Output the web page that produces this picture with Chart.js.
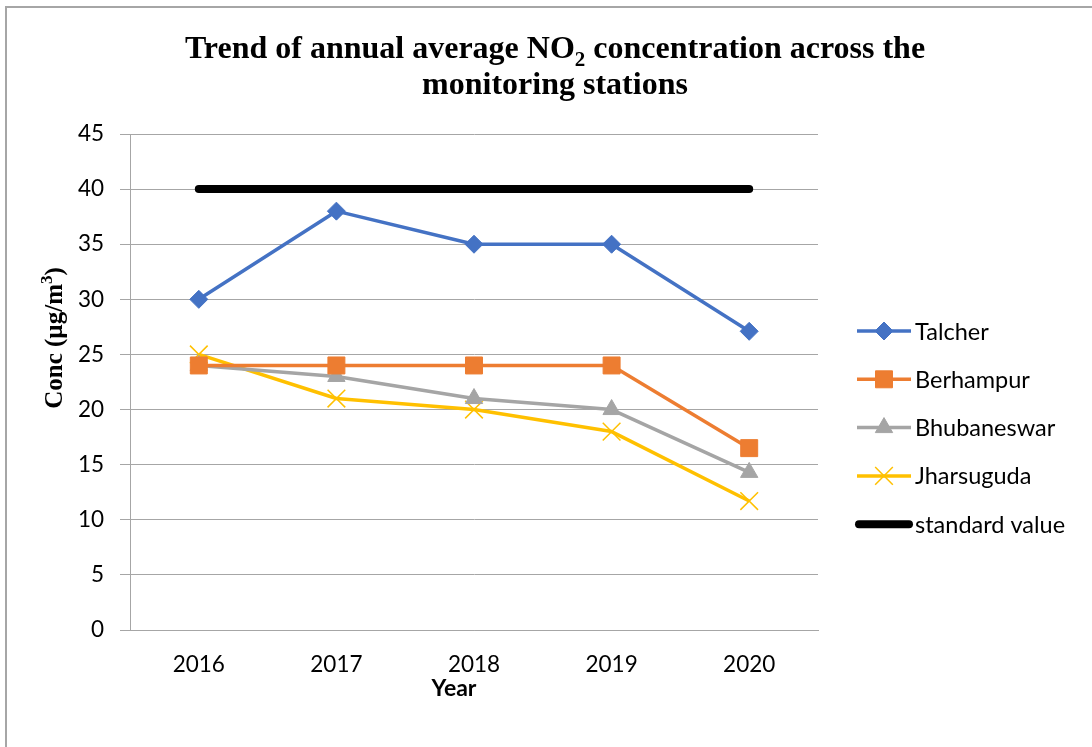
<!DOCTYPE html>
<html>
<head>
<meta charset="utf-8">
<script src="https://cdn.jsdelivr.net/npm/chart.js@4/dist/chart.umd.min.js"></script>
<style>
  html, body { margin: 0; padding: 0; background: #fff; }
  #wrap { position: relative; width: 1092px; height: 747px; }
</style>
</head>
<body>
<div id="wrap"><canvas id="no2Chart" width="1092" height="747"></canvas></div>
<script>
// ===== data =====
const years = ['2016', '2017', '2018', '2019', '2020'];
const talcher = [30, 38, 35, 35, 27.1];
const berhampur = [24, 24, 24, 24, 16.5];
const bhubaneswar = [24, 23, 21, 20, 14.3];
const jharsuguda = [25, 21, 20, 18, 11.7];
const standardValue = [40, 40, 40, 40, 40];
const yTicks = [0, 5, 10, 15, 20, 25, 30, 35, 40, 45];

const SANS = 'Lato, "Open Sans", sans-serif';
const SERIF = '"Liberation Serif", "Times New Roman", serif';
const GRID = '#a6a6a6';

const series = [
  { label: 'Talcher', data: talcher, color: '#4472C4', pointStyle: 'rectRot', radius: 9, width: 3.5 },
  { label: 'Berhampur', data: berhampur, color: '#ED7D31', pointStyle: 'rect', radius: 12, width: 3.5 },
  { label: 'Bhubaneswar', data: bhubaneswar, color: '#A5A5A5', pointStyle: 'triangle', radius: 10, width: 3.5 },
  { label: 'Jharsuguda', data: jharsuguda, color: '#FFC000', pointStyle: 'crossRot', radius: 12.5, width: 3.5 },
  { label: 'standard value', data: standardValue, color: '#000000', pointStyle: false, radius: 0, width: 8 }
];

// draws runs of text side by side; each run is [text, font, dy]
function drawRuns(ctx, runs, cx, y) {
  let total = 0;
  runs.forEach(r => { ctx.font = r[1]; total += ctx.measureText(r[0]).width; });
  let x = cx - total / 2;
  ctx.textAlign = 'left';
  runs.forEach(r => { ctx.font = r[1]; ctx.fillText(r[0], x, y + r[2]); x += ctx.measureText(r[0]).width; });
}

// ===== frame, titles =====
const framePlugin = {
  id: 'frame',
  beforeDraw(chart) {
    const ctx = chart.ctx;
    ctx.save();
    ctx.fillStyle = '#fff';
    ctx.fillRect(0, 0, chart.width, chart.height);
    ctx.strokeStyle = '#a6a6a6';
    ctx.lineWidth = 2;
    ctx.strokeRect(6, 7, chart.width + 20, chart.height + 20);
    ctx.restore();
  },
  afterDraw(chart) {
    const ctx = chart.ctx;
    ctx.save();
    ctx.fillStyle = '#000';
    ctx.textBaseline = 'alphabetic';
    const big = 'bold 32px ' + SERIF, small = 'bold 21px ' + SERIF;
    drawRuns(ctx, [['Trend of annual average NO', big, 0], ['2', small, 8], [' concentration across the', big, 0]], 555, 58);
    drawRuns(ctx, [['monitoring stations', big, 0]], 555, 94);

    // x title
    drawRuns(ctx, [['Year', 'bold 23px ' + SANS, 0]], 454, 696);

    // rotated y title with superscript
    ctx.translate(62, 338);
    ctx.rotate(-Math.PI / 2);
    const yt = 'bold 25px ' + SERIF, ys = 'bold 17px ' + SERIF;
    drawRuns(ctx, [['Conc (µg/m', yt, 0], ['3', ys, -10], [')', yt, 0]], 0, 0);
    ctx.restore();
  }
};

// ===== legend: line + marker + label on the right =====
const sideLegend = {
  id: 'sideLegend',
  afterDraw(chart) {
    const ctx = chart.ctx;
    ctx.save();
    chart.data.datasets.forEach((ds, i) => {
      const y = 331 + i * 48.3;
      ctx.strokeStyle = ds.borderColor;
      ctx.fillStyle = ds.borderColor;
      ctx.lineWidth = ds.borderWidth;
      ctx.lineCap = ds.borderCapStyle || 'butt';
      ctx.beginPath();
      const x0 = ds.pointStyle ? 857 : 859, x1 = ds.pointStyle ? 911 : 909;
      ctx.moveTo(x0, y); ctx.lineTo(x1, y); ctx.stroke();
      if (ds.pointStyle) {
        ctx.lineWidth = ds.pointBorderWidth;
        Chart.helpers.drawPoint(ctx, { pointStyle: ds.pointStyle, radius: ds.pointRadius, rotation: 0, borderWidth: ds.pointBorderWidth }, 884, y);
      }
      ctx.fillStyle = '#000';
      ctx.font = '23.5px ' + SANS;
      ctx.textBaseline = 'middle';
      ctx.textAlign = 'left';
      ctx.fillText(ds.label, 915, y + 1);
    });
    ctx.restore();
  }
};

new Chart(document.getElementById('no2Chart'), {
  type: 'line',
  data: {
    labels: years,
    datasets: series.map(s => ({
      label: s.label,
      data: s.data,
      borderColor: s.color,
      backgroundColor: s.color,
      pointBackgroundColor: s.color,
      pointBorderColor: s.color,
      pointBorderWidth: s.pointStyle === 'crossRot' ? 1.5 : 1,
      pointStyle: s.pointStyle,
      pointRadius: s.radius,
      borderWidth: s.width,
      borderCapStyle: s.pointStyle ? 'butt' : 'round',
      borderJoinStyle: 'round',
      tension: 0,
      fill: false,
      order: s.pointStyle ? 0 : 1
    }))
  },
  options: {
    responsive: false,
    animation: false,
    devicePixelRatio: 1,
    layout: { padding: { left: 0, top: 134, right: 274, bottom: 0 } },
    plugins: {
      legend: { display: false },
      title: { display: false },
      tooltip: { enabled: false }
    },
    scales: {
      x: {
        offset: true,
        grid: { display: false, drawTicks: false },
        border: { display: true, color: GRID, width: 1 },
        ticks: { color: '#000', font: { family: SANS, size: 22.5 }, padding: 21 },
        title: { display: false },
        afterFit(scale) { scale.height = 117; }
      },
      y: {
        min: 0, max: 45,
        afterBuildTicks(scale) { scale.ticks = yTicks.map(v => ({ value: v })); },
        grid: { color: GRID, lineWidth: 1, tickLength: 10, drawTicks: true },
        border: { display: true, color: GRID, width: 1 },
        ticks: { color: '#000', font: { family: SANS, size: 22.5 }, padding: 16 },
        title: { display: false },
        afterFit(scale) { scale.width = 130; }
      }
    }
  },
  plugins: [framePlugin, sideLegend]
});
</script>
</body>
</html>
